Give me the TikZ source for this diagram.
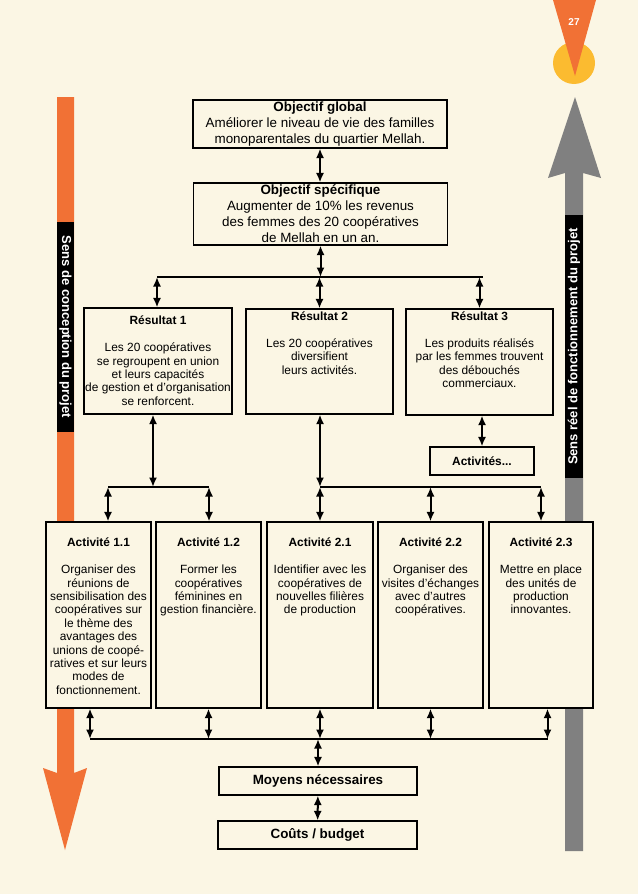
\documentclass[tikz,border=0pt]{standalone}
\usepackage{fontspec}
\setmainfont{Liberation Sans}
\usetikzlibrary{arrows.meta}
\definecolor{paper}{RGB}{251,246,228}
\definecolor{rust}{RGB}{241,113,53}
\definecolor{ash}{RGB}{128,128,128}
\definecolor{sun}{RGB}{251,187,48}
\newcommand\bodyfont{\fontsize{11.9}{13.4}\selectfont}
\newcommand\headfont{\fontsize{13.4}{16}\selectfont}
\newcommand\cellbox[4]{\parbox[t][#2pt][t]{#1pt}{\bodyfont\centering\vspace*{#3pt}#4}}
\begin{document}
\begin{tikzpicture}[
    x=1pt, y=-1pt,
    cell/.style={draw, line width=1.1pt, fill=paper, inner sep=0pt},
    bar/.style={line width=2.8pt},
    link/.style={line width=2pt, {Latex[length=9.5pt,width=8pt]}-{Latex[length=9.5pt,width=8pt]}},
    lbl/.style={fill=black, text=white, inner sep=0pt,
                font=\bfseries\fontsize{13}{13}\selectfont}]

\fill[paper] (0,0) rectangle (638,894);
\useasboundingbox (0,0) rectangle (638,894);

\fill[sun] (574,63) circle (21pt);
\fill[rust] (553,0) -- (596,0) -- (575,76) -- cycle;
\node[text=white, font=\bfseries\fontsize{10}{10}\selectfont] (page) at (574,22) {27};

\fill[rust] (57,97) -- (74,97) -- (74,773) -- (87,768) -- (65,850)
            -- (43,768) -- (57,773) -- cycle;
\fill[ash] (565,851) -- (583,851) -- (583,173) -- (601,178) -- (575,97)
           -- (548,178) -- (565,173) -- cycle;
\node[lbl, rotate=-90, minimum width=210, minimum height=17] (design) at (65.5,327)
    {Sens de conception du projet};
\node[lbl, rotate=90, minimum width=263, minimum height=18] (real) at (574,346.5)
    {Sens réel de fonctionnement du projet};

\node[cell, minimum width=254, minimum height=48, align=center, font=\headfont] (global) at (320,124)
    {\textbf{Objectif global}\\Améliorer le niveau de vie des familles\\monoparentales du quartier Mellah.};
\node[cell, minimum width=254, minimum height=62, align=center, font=\headfont] (specific) at (320.5,214)
    {\textbf{Objectif spécifique}\\Augmenter de 10\% les revenus\\des femmes des 20 coopératives\\de Mellah en un an.};

\node[cell] (res1) at (158,361) {\cellbox{148}{106}{8}{\textbf{Résultat 1}\\[13.6pt]Les 20 coopératives\\se regroupent en union\\et leurs capacités\\de gestion et d’organisation\\se renforcent.}};
\node[cell] (res2) at (319.5,361.5) {\cellbox{147}{105}{2.5}{\textbf{Résultat 2}\\[13.6pt]Les 20 coopératives\\diversifient\\leurs activités.}};
\node[cell] (res3) at (479.5,362) {\cellbox{147}{106}{2.5}{\textbf{Résultat 3}\\[13.6pt]Les produits réalisés\\par les femmes trouvent\\des débouchés\\commerciaux.}};
\node[cell, minimum width=104, minimum height=28, font=\bodyfont\bfseries] (more) at (482,461) {Activités...};

\node[cell] (act11) at (98.5,615) {\cellbox{105}{186}{16}{\textbf{Activité 1.1}\\[13.6pt]Organiser des\\réunions de\\sensibilisation des\\coopératives sur\\le thème des\\avantages des\\unions de coopé-\\ratives et sur leurs\\modes de\\fonctionnement.}};
\node[cell] (act12) at (208.5,615) {\cellbox{105}{186}{16}{\textbf{Activité 1.2}\\[13.6pt]Former les\\coopératives\\féminines en\\gestion financière.}};
\node[cell] (act21) at (320,615) {\cellbox{106}{186}{16}{\textbf{Activité 2.1}\\[13.6pt]Identifier avec les\\coopératives de\\nouvelles filières\\de production}};
\node[cell] (act22) at (430.5,615) {\cellbox{105}{186}{16}{\textbf{Activité 2.2}\\[13.6pt]Organiser des\\visites d’échanges\\avec d’autres\\coopératives.}};
\node[cell] (act23) at (541,615) {\cellbox{104}{186}{16}{\textbf{Activité 2.3}\\[13.6pt]Mettre en place\\des unités de\\production\\innovantes.}};

\node[cell, minimum width=198, minimum height=28, font=\headfont\bfseries] (means) at (318,781) {Moyens nécessaires};
\node[cell, minimum width=199, minimum height=28, font=\headfont\bfseries] (cost) at (317.5,835) {Coûts / budget};

\coordinate (b1l) at (157,277);
\coordinate (b1r) at (483,277);
\coordinate (b2m) at (153,487);
\coordinate (b2l) at (108,487);
\coordinate (b2r) at (209,487);
\coordinate (b3l) at (320,487);
\coordinate (b3r) at (541,487);
\coordinate (b4l) at (90,739);
\coordinate (b4r) at (547.5,739);

\draw[bar] (b1l) -- (b1r);
\draw[bar] (b2l) -- (b2r);
\draw[bar] (b3l) -- (b3r);
\draw[bar] (b4l) -- (b4r);

\draw[link] (global.south) -- (global.south |- specific.north);
\draw[link] (specific.south) -- (specific.south |- b1l);
\draw[link] (b1l) -- (b1l |- res1.north);
\draw[link] (res2.north |- b1l) -- (res2.north);
\draw[link] (res3.north |- b1l) -- (res3.north);
\draw[link] (more.north |- res3.south) -- (more.north);
\draw[link] (res1.south -| b2m) -- (b2m);
\draw[link] (res2.south -| b3l) -- (b3l);
\draw[link] (b2l) -- (b2l |- act11.north);
\draw[link] (b2r) -- (b2r |- act12.north);
\draw[link] (b3l) -- (b3l |- act21.north);
\draw[link] (act22.north |- b3l) -- (act22.north);
\draw[link] (b3r) -- (b3r |- act23.north);
\draw[link] (act11.south -| b4l) -- (b4l);
\draw[link] (act12.south) -- (act12.south |- b4l);
\draw[link] (act21.south) -- (act21.south |- b4l);
\draw[link] (act22.south) -- (act22.south |- b4l);
\draw[link] (act23.south -| b4r) -- (b4r);
\draw[link] (means.north |- b4l) -- (means.north);
\draw[link] (means) -- (cost);

\end{tikzpicture}
\end{document}
